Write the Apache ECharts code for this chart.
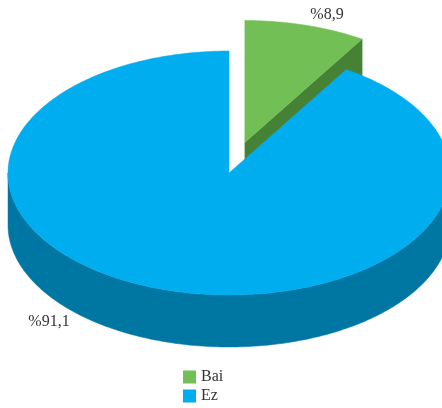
<!DOCTYPE html>
<html>
<head>
<meta charset="utf-8">
<script src="https://cdn.jsdelivr.net/npm/echarts@6/dist/echarts.min.js"></script>
<style>
  html, body { margin: 0; padding: 0; background: #fff; }
  #chart { width: 442px; height: 408px; }
</style>
</head>
<body>
<div id="chart"></div>
<script>
// Shares of the two answers, in percent
const categories = ['Bai', 'Ez'];
const shares = [8.9, 91.1];
const labelTexts = ['%8,9', '%91,1'];

// Colours: top face and darker side face of each slice
const topColors = ['#71BF55', '#00ADEE'];
const sideColors = ['#468236', '#0077A3'];

// Tilted-disc layout
const CX = 229, CY = 173;   // centre of the top ellipse
const RX = 221, RY = 122;   // ellipse radii
const DEPTH = 52;           // thickness of the disc
const explode = [0.26, 0];  // pull-out of each slice, as a fraction of the radius
const labelAt = [[327, 15], [49, 322]];

const total = shares.reduce((s, v) => s + v, 0);
const startDeg = [];
shares.reduce((acc, v, i) => { startDeg[i] = acc; return acc + v / total * 360; }, 0);

const rad = d => d * Math.PI / 180;

function sliceRenderer(i) {
  return function () {
    const a = startDeg[i];
    const b = a + shares[i] / total * 360;
    const mid = (a + b) / 2;
    const cx = CX + explode[i] * RX * Math.sin(rad(mid));
    const cy = CY - explode[i] * RY * Math.cos(rad(mid));
    const pt = (d, z) => [cx + RX * Math.sin(rad(d)), cy - RY * Math.cos(rad(d)) + z];
    const arc = (from, to, z) => {
      const pts = [];
      const n = Math.max(2, Math.ceil(Math.abs(to - from)));
      for (let k = 0; k <= n; k++) pts.push(pt(from + (to - from) * k / n, z));
      return pts;
    };
    const children = [];
    const side = { fill: sideColors[i], stroke: sideColors[i], lineWidth: 0.5 };
    // radial cut faces that turn toward the viewer
    if (Math.sin(rad(a)) < -1e-6) {
      children.push({ type: 'polygon', shape: { points: [[cx, cy], pt(a, 0), pt(a, DEPTH), [cx, cy + DEPTH]] }, style: side });
    }
    if (Math.sin(rad(b)) > 1e-6) {
      children.push({ type: 'polygon', shape: { points: [[cx, cy], pt(b, 0), pt(b, DEPTH), [cx, cy + DEPTH]] }, style: side });
    }
    // outer wall on the front half of the disc
    const lo = Math.max(a, 90), hi = Math.min(b, 270);
    if (hi > lo) {
      const pts = arc(lo, hi, 0).concat(arc(hi, lo, DEPTH));
      children.push({ type: 'polygon', shape: { points: pts }, style: side });
    }
    // top face
    children.push({
      type: 'polygon',
      shape: { points: [[cx, cy]].concat(arc(a, b, 0)) },
      style: { fill: topColors[i], stroke: topColors[i], lineWidth: 0.5 }
    });
    // percentage label
    children.push({
      type: 'text', x: labelAt[i][0], y: labelAt[i][1],
      style: {
        text: labelTexts[i], fill: '#333', fontSize: 16,
        fontFamily: '"Liberation Serif", serif', align: 'center', verticalAlign: 'middle'
      }
    });
    return { type: 'group', children };
  };
}

const chart = echarts.init(document.getElementById('chart'), null, { renderer: 'canvas' });
chart.setOption({
  animation: false,
  legend: {
    orient: 'vertical', left: 183, top: 369, padding: 0, height: 60,
    data: categories, icon: 'rect', itemWidth: 13, itemHeight: 13, itemGap: 3,
    textStyle: { fontFamily: '"Liberation Serif", serif', fontSize: 16, color: '#333' },
    selectedMode: false
  },
  series: categories.map((name, i) => ({
    type: 'custom', name, coordinateSystem: 'none', silent: true,
    itemStyle: { color: topColors[i] },
    data: [[shares[i]]],
    renderItem: sliceRenderer(i)
  }))
});
</script>
</body>
</html>
